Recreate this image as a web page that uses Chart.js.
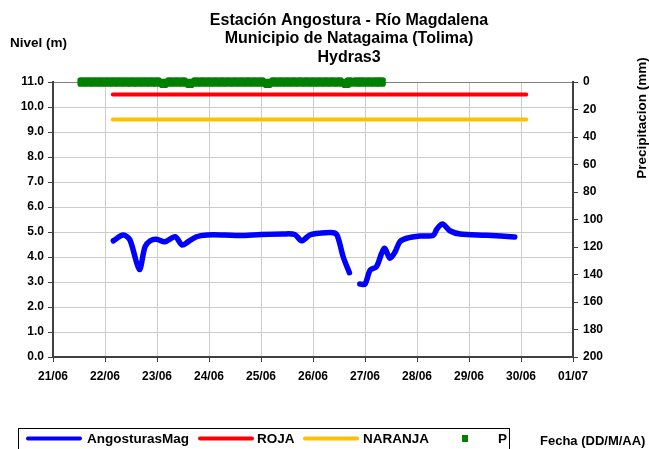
<!DOCTYPE html>
<html lang="es">
<head>
    <meta charset="UTF-8">
    <title>Estación Angostura - Río Magdalena</title>
    <script src="https://cdn.jsdelivr.net/npm/chart.js"></script>
    <style>
        body { margin: 0; background: #fff; }
        canvas { display: block; }
    </style>
</head>
<body>
    <canvas id="myChart" width="649" height="449"></canvas>

    <script>
        // datos (x = dia de junio, con fraccion)
        const tituloLineas = ["Estación Angostura - Río Magdalena", "Municipio de Natagaima (Tolima)", "Hydras3"];
        const fechasTicks = ["21/06", "22/06", "23/06", "24/06", "25/06", "26/06", "27/06", "28/06", "29/06", "30/06", "01/07"];

        const nivelDias = [22.16, 22.35, 22.48, 22.66, 22.77, 22.87, 22.99, 23.15, 23.35, 23.48, 23.60, 23.76, 23.96, 24.3, 24.6, 25.0, 25.42, 25.65, 25.78, 25.94, 26.13, 26.39, 26.47, 26.58, 26.70,
            26.80, 26.90, 27.0, 27.10, 27.22, 27.32, 27.38, 27.48, 27.58, 27.67, 27.80, 28.06, 28.31, 28.38, 28.49, 28.63, 28.83, 29.34, 29.88];
        const nivelValores = [4.65, 4.88, 4.68, 3.5, 4.41, 4.65, 4.71, 4.61, 4.81, 4.48, 4.61, 4.81, 4.88, 4.88, 4.86, 4.9, 4.92, 4.9, 4.65, 4.88, 4.95, 4.97, 4.84, 4.01, 3.37,
            null, 2.92, 2.92, 3.48, 3.61, 4.15, 4.35, 3.95, 4.21, 4.61, 4.75, 4.84, 4.86, 5.11, 5.32, 5.05, 4.92, 4.87, 4.8];

        const umbralDias = [22.15, 30.1];
        const rojaValores = [10.5, 10.5];
        const naranjaValores = [9.5, 9.5];

        const lluviaDias = [21.56, 21.68, 21.8, 21.92, 22.04, 22.16, 22.28, 22.4, 22.52, 22.64, 22.76, 22.88, 23, 23.13, 23.25, 23.375,
            23.5, 23.63, 23.75, 23.875, 24, 24.125, 24.25, 24.375, 24.5, 24.625, 24.75, 24.875, 25, 25.13, 25.25, 25.375,
            25.5, 25.625, 25.75, 25.875, 26, 26.125, 26.25, 26.375, 26.5, 26.64, 26.7, 26.84, 26.95, 27.075, 27.2, 27.31];
        const lluviaValores = [0, 0, 0, 0, 0, 0, 0, 0, 0, 0, 0, 0, 0, 1, 0, 0,
            0, 1, 0, 0, 0, 0, 0, 0, 0, 0, 0, 0, 0, 1, 0, 0,
            0, 0, 0, 0, 0, 0, 0, 0, 0, 1, 0, 0, 0, 0, 0, 0];

        const fuente = '"Liberation Sans", Arial, sans-serif';

        function puntos(xs, ys) {
            return xs.map((x, i) => ({ x: x, y: ys[i] }));
        }

        // textos, leyenda y titulos fuera del area del grafico
        const textosPlugin = {
            id: "textos",
            afterDraw(chart) {
                const ctx = chart.ctx;
                ctx.save();
                ctx.fillStyle = "#000";
                ctx.textBaseline = "middle";

                ctx.font = "bold 16px " + fuente;
                ctx.textAlign = "center";
                tituloLineas.forEach((t, i) => ctx.fillText(t, 349, 20.5 + i * 18.5));

                ctx.font = "bold 13.5px " + fuente;
                ctx.textAlign = "left";
                ctx.fillText("Nivel (m)", 10, 43);

                ctx.save();
                ctx.translate(642, 118);
                ctx.rotate(-Math.PI / 2);
                ctx.textAlign = "center";
                ctx.fillText("Precipitacion (mm)", 0, 0);
                ctx.restore();

                ctx.font = "bold 13px " + fuente;
                ctx.fillText("Fecha (DD/M/AA)", 540, 441);

                // leyenda
                ctx.font = "bold 13.5px " + fuente;
                ctx.strokeStyle = "#000";
                ctx.lineWidth = 1;
                ctx.strokeRect(18.5, 428.5, 491, 22);
                const ds = chart.data.datasets;
                const items = [
                    { d: ds[0], x: 28, tx: 87 },
                    { d: ds[1], x: 200, tx: 257 },
                    { d: ds[2], x: 305, tx: 363 }
                ];
                ctx.lineCap = "round";
                items.forEach(it => {
                    ctx.strokeStyle = it.d.borderColor;
                    ctx.lineWidth = 4;
                    ctx.beginPath();
                    ctx.moveTo(it.x, 438.5);
                    ctx.lineTo(it.x + 52, 438.5);
                    ctx.stroke();
                    ctx.fillText(it.d.label, it.tx, 439);
                });
                ctx.fillStyle = ds[3].backgroundColor;
                ctx.fillRect(462, 435, 6, 7);
                ctx.fillStyle = "#000";
                ctx.fillText(ds[3].label, 498, 439);
                ctx.restore();
            }
        };

        const ctx = document.getElementById("myChart").getContext("2d");
        const chart = new Chart(ctx, {
            type: "line",
            data: {
                datasets: [{
                    label: "AngosturasMag",
                    data: puntos(nivelDias, nivelValores),
                    borderColor: "#0000ff",
                    borderWidth: 5.5,
                    borderCapStyle: "round",
                    borderJoinStyle: "round",
                    pointRadius: 0,
                    tension: 0.3,
                    spanGaps: false,
                    yAxisID: "y",
                    order: 1
                },
                {
                    label: "ROJA",
                    data: puntos(umbralDias, rojaValores),
                    borderColor: "#ff0000",
                    borderWidth: 4,
                    borderCapStyle: "round",
                    pointRadius: 0,
                    yAxisID: "y",
                    order: 2
                },
                {
                    label: "NARANJA",
                    data: puntos(umbralDias, naranjaValores),
                    borderColor: "#ffc000",
                    borderWidth: 4,
                    borderCapStyle: "round",
                    pointRadius: 0,
                    yAxisID: "y",
                    order: 3
                },
                {
                    label: "P",
                    data: puntos(lluviaDias, lluviaValores),
                    showLine: false,
                    backgroundColor: "#008000",
                    borderColor: "#008000",
                    pointStyle: "rectRounded",
                    pointRadius: 5.5,
                    pointBorderWidth: 0,
                    yAxisID: "y2",
                    clip: false,
                    order: 0
                }]
            },
            options: {
                responsive: false,
                animation: false,
                events: [],
                layout: { padding: { top: 82, left: 0, right: 0, bottom: 0 } },
                plugins: {
                    legend: { display: false },
                    title: { display: false },
                    tooltip: { enabled: false }
                },
                scales: {
                    x: {
                        type: "linear",
                        min: 21,
                        max: 31,
                        afterFit: s => { s.height = 92; },
                        afterBuildTicks: s => { s.ticks = fechasTicks.map((t, i) => ({ value: 21 + i })); },
                        ticks: {
                            autoSkip: false,
                            maxRotation: 0,
                            padding: 7,
                            color: "#000",
                            font: { family: fuente, size: 12, weight: "bold" },
                            callback: (v, i) => fechasTicks[i]
                        },
                        grid: { color: "#cccccc", tickColor: "#404040", tickLength: 5 },
                        border: { color: "#404040", width: 2 }
                    },
                    y: {
                        position: "left",
                        min: 0,
                        max: 11,
                        afterFit: s => { s.width = 53; },
                        ticks: {
                            stepSize: 1,
                            padding: 4,
                            color: "#000",
                            font: { family: fuente, size: 12, weight: "bold" },
                            callback: v => v.toFixed(1)
                        },
                        grid: {
                            color: c => c.tick && c.tick.value === 11 ? "#808080" : "#cccccc",
                            tickColor: "#404040",
                            tickLength: 5
                        },
                        border: { color: "#404040", width: 2 }
                    },
                    y2: {
                        position: "right",
                        min: 0,
                        max: 200,
                        reverse: true,
                        afterFit: s => { s.width = 76; },
                        ticks: {
                            stepSize: 20,
                            padding: 5,
                            color: "#000",
                            font: { family: fuente, size: 12, weight: "bold" }
                        },
                        grid: { drawOnChartArea: false, tickColor: "#404040", tickLength: 5 },
                        border: { color: "#404040", width: 2 }
                    }
                }
            },
            plugins: [textosPlugin]
        });
    </script>
</body>
</html>
